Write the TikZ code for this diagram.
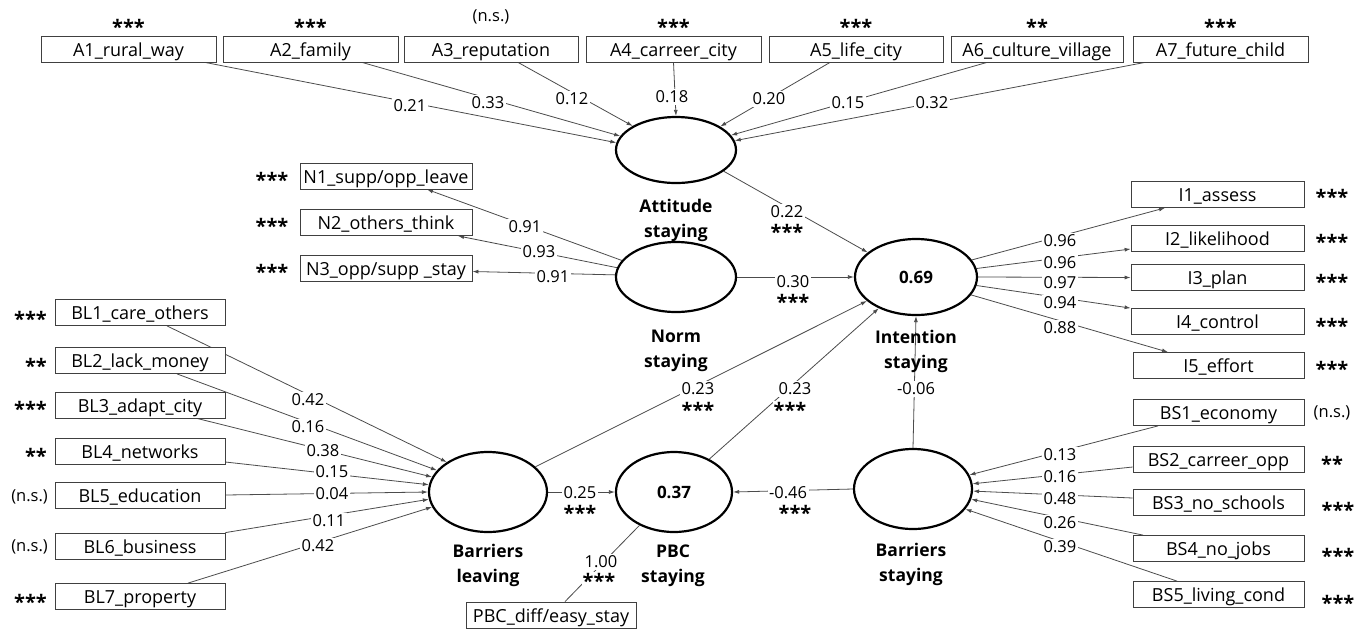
\documentclass[tikz,border=0pt]{standalone}
\usepackage{fontspec}
\setmainfont{Open Sans}
\usetikzlibrary{arrows.meta,shapes.geometric}
\pgfdeclarelayer{paper}
\pgfdeclarelayer{bg}
\pgfsetlayers{paper,bg,main}
\begin{document}
\begin{tikzpicture}[x=1pt,y=-1pt,
 box/.style={draw=black!75, line width=0.8pt, fill=white, minimum height=26pt, inner sep=0pt, text height=15pt, text depth=0.5pt, font=\fontsize{18}{20}\selectfont},
 lat/.style={ellipse, draw=black, line width=2.2pt, inner sep=0pt, fill=white, font=\bfseries\fontsize{17}{19}\selectfont},
 ltxt/.style={font=\bfseries\fontsize{17.5}{25}\selectfont, align=center},
 con/.style={draw=black!70, line width=0.8pt, -{Latex[length=6pt,width=4pt]}},
 plain/.style={draw=black!70, line width=0.8pt},
 num/.style={fill=white, inner sep=1.5pt, font=\fontsize{16.5}{18}\selectfont},
 st/.style={font=\bfseries\fontsize{20}{20}\selectfont, anchor=base, yshift=-11pt, inner sep=1pt, fill=white},
 ns/.style={font=\fontsize{16.5}{18}\selectfont, inner sep=0pt},
]
\useasboundingbox (0,0) rectangle (1370,630);
\begin{pgfonlayer}{paper}
\fill[white] (0,0) rectangle (1370,630);
\end{pgfonlayer}

% ---- top indicator boxes
\node[box, minimum width=175pt] (a1) at (128.5,49) {A1\_rural\_way};
\node[box, minimum width=175pt] (a2) at (310.5,49) {A2\_family};
\node[box, minimum width=174pt] (a3) at (491,49) {A3\_reputation};
\node[box, minimum width=175pt] (a4) at (673.5,49) {A4\_carreer\_city};
\node[box, minimum width=174pt] (a5) at (856,49) {A5\_life\_city};
\node[box, minimum width=172pt] (a6) at (1037,49) {A6\_culture\_village};
\node[box, minimum width=175pt] (a7) at (1220.5,49) {A7\_future\_child};
\node[st] (sa1) at (128.5,23) {***};
\node[st] (sa2) at (310.5,23) {***};
\node[ns] (sa3) at (491,17) {(n.s.)};
\node[st] (sa4) at (673.5,23) {***};
\node[st] (sa5) at (856,23) {***};
\node[st] (sa6) at (1037,23) {**};
\node[st] (sa7) at (1220.5,23) {***};

% ---- latent variables
\node[lat, minimum width=120pt, minimum height=66pt] (att) at (676,150) {};
\node[lat, minimum width=120pt, minimum height=70pt] (nrm) at (676,277) {};
\node[lat, minimum width=122pt, minimum height=76pt] (int) at (916,277) {0.69};
\node[lat, minimum width=118pt, minimum height=80pt] (bl) at (488,492) {};
\node[lat, minimum width=116pt, minimum height=80pt] (pbc) at (674,492) {0.37};
\node[lat, minimum width=118pt, minimum height=80pt] (bs) at (913,489) {};
\node[ltxt] (attL) at (676,220.5) {Attitude\\staying};
\node[ltxt] (nrmL) at (676,351) {Norm\\staying};
\node[ltxt] (intL) at (916,351.5) {Intention\\staying};
\node[ltxt] (blL) at (488,565.5) {Barriers\\leaving};
\node[ltxt] (pbcL) at (673,565.5) {PBC\\staying};
\node[ltxt] (bsL) at (911,564) {Barriers\\staying};

% ---- norm indicators
\node[box, minimum width=172pt] (n1) at (386,176) {N1\_supp/opp\_leave};
\node[box, minimum width=172pt] (n2) at (386,222.5) {N2\_others\_think};
\node[box, minimum width=172pt] (n3) at (386,268.5) {N3\_opp/supp \_stay};
\node[st] (sn1) at (272,176) {***};
\node[st] (sn2) at (272,222.5) {***};
\node[st] (sn3) at (272,268.5) {***};

% ---- intention indicators
\node[box, minimum width=173pt] (i1) at (1217.5,194.5) {I1\_assess};
\node[box, minimum width=173pt] (i2) at (1217.5,238.5) {I2\_likelihood};
\node[box, minimum width=173pt] (i3) at (1217.5,277.5) {I3\_plan};
\node[box, minimum width=173pt] (i4) at (1217.5,321.5) {I4\_control};
\node[box, minimum width=171pt] (i5) at (1218.5,365.5) {I5\_effort};
\node[st] (si1) at (1332,193) {***};
\node[st] (si2) at (1332,238) {***};
\node[st] (si3) at (1332,278) {***};
\node[st] (si4) at (1332,322) {***};
\node[st] (si5) at (1332,365) {***};

% ---- barriers staying indicators
\node[box, minimum width=171pt] (bs1) at (1218.5,412.5) {BS1\_economy};
\node[box, minimum width=171pt] (bs2) at (1218.5,459) {BS2\_carreer\_opp};
\node[box, minimum width=171pt] (bs3) at (1218.5,502.5) {BS3\_no\_schools};
\node[box, minimum width=171pt] (bs4) at (1218.5,548.5) {BS4\_no\_jobs};
\node[box, minimum width=171pt] (bs5) at (1218.5,594.5) {BS5\_living\_cond};
\node[ns] (sbs1) at (1332,413) {(n.s.)};
\node[st] (sbs2) at (1332,460) {**};
\node[st] (sbs3) at (1338,506) {***};
\node[st] (sbs4) at (1338,552) {***};
\node[st] (sbs5) at (1338,599) {***};

% ---- barriers leaving indicators
\node[box, minimum width=170pt] (bl1) at (140,312.5) {BL1\_care\_others};
\node[box, minimum width=170pt] (bl2) at (140,360.5) {BL2\_lack\_money};
\node[box, minimum width=170pt] (bl3) at (140,405) {BL3\_adapt\_city};
\node[box, minimum width=170pt] (bl4) at (140,451) {BL4\_networks};
\node[box, minimum width=170pt] (bl5) at (140,495) {BL5\_education};
\node[box, minimum width=170pt] (bl6) at (140,546) {BL6\_business};
\node[box, minimum width=170pt] (bl7) at (140,596.5) {BL7\_property};
\node[st, anchor=base east] (sbl1) at (48,315) {***};
\node[st, anchor=base east] (sbl2) at (48,362) {**};
\node[st, anchor=base east] (sbl3) at (48,405) {***};
\node[st, anchor=base east] (sbl4) at (48,452) {**};
\node[ns, anchor=east] (sbl5) at (48,497) {(n.s.)};
\node[ns, anchor=east] (sbl6) at (48,547) {(n.s.)};
\node[st, anchor=base east] (sbl7) at (48,598) {***};

% ---- PBC indicator
\node[box, minimum width=170pt] (pbcb) at (551,615) {PBC\_diff/easy\_stay};

% ---- connectors (background layer)
\begin{pgfonlayer}{bg}
\draw[con] ([xshift=76.5pt]a1.south) -- (att.173.2);
\draw[con] ([xshift=51.5pt]a2.south) -- (att.166.7);
\draw[con] ([xshift=27pt]a3.south) -- (att.151.9);
\draw[con] (a4.south) -- (att.north);
\draw[con] ([xshift=-26pt]a5.south) -- (att.28.1);
\draw[con] ([xshift=-50pt]a6.south) -- (att.15.7);
\draw[con] ([xshift=-75.5pt]a7.south) -- (att.9.9);

\draw[con] (nrm.163.3) -- ([xshift=41pt]n1.south);
\draw[con] (nrm.171.2) -- ([xshift=72pt]n2.south);
\draw[con] (nrm.178) -- ([yshift=-3pt]n3.east);

\draw[con] (att.336.4) -- (int.153);
\draw[con] (nrm.east) -- (int.west);
\draw[con] (bl.28) -- (int.206);
\draw[con] (pbc.43) -- (int.220);
\draw[con] (bs.north) -- (int.south);
\draw[con] (bl.east) -- (pbc.west);
\draw[con] (bs.west) -- (pbc.east);
\draw[plain] ([xshift=14pt]pbcb.north) -- (pbc.224);

\draw[con] (int.17.3) -- ([xshift=-52.5pt]i1.south);
\draw[con] (int.8.6) -- ([yshift=-10.5pt]i2.west);
\draw[con] (int.0) -- (i3.west);
\draw[con] (int.352.3) -- (i4.north west);
\draw[con] (int.342.7) -- ([xshift=-50.5pt]i5.north);

\draw[con] ([xshift=27pt]bl1.south) -- (bl.144.5);
\draw[con] ([xshift=37pt]bl2.south) -- (bl.157.3);
\draw[con] ([xshift=57pt]bl3.south) -- (bl.165.8);
\draw[con] ([yshift=-11pt]bl4.east) -- (bl.173.1);
\draw[con] (bl5.east) -- (bl.180);
\draw[con] (bl6.north east) -- (bl.187.9);
\draw[con] ([xshift=48pt]bl7.north) -- (bl.195.3);

\draw[con] ([xshift=-60.5pt]bs1.south) -- (bs.14.2);
\draw[con] ([yshift=-8pt]bs2.west) -- (bs.5.9);
\draw[con] ([yshift=4.5pt]bs3.west) -- (bs.358);
\draw[con] ([xshift=-75.5pt]bs4.north) -- (bs.350.1);
\draw[con] ([xshift=-41.5pt]bs5.north) -- (bs.339.9);
\end{pgfonlayer}

% ---- coefficient labels
\node[num] (la1) at (410,106) {0.21};
\node[num] (la2) at (488,103) {0.33};
\node[num] (la3) at (572,99) {0.12};
\node[num] (la4) at (672,97) {0.18};
\node[num] (la5) at (769,99) {0.20};
\node[num] (la6) at (848,103) {0.15};
\node[num] (la7) at (932,103) {0.32};

\node[num] (ln1) at (525,227) {0.91};
\node[num] (ln2) at (539,252) {0.93};
\node[num] (ln3) at (553,277) {0.91};

\node[num] (lai) at (787,212) {0.22};
\node[st]  (sai) at (787,228) {***};
\node[num] (lni) at (793,282) {0.30};
\node[st]  (sni) at (793,298) {***};

\node[num] (li1) at (1060,241) {0.96};
\node[num] (li2) at (1060,263) {0.96};
\node[num] (li3) at (1060,283) {0.97};
\node[num] (li4) at (1060,303) {0.94};
\node[num] (li5) at (1060,328) {0.88};

\node[num] (lb1) at (308,400) {0.42};
\node[num] (lb2) at (308,427) {0.16};
\node[num] (lb3) at (323,451) {0.38};
\node[num] (lb4) at (332,472) {0.15};
\node[num] (lb5) at (332,494) {0.04};
\node[num] (lb6) at (329,521) {0.11};
\node[num] (lb7) at (318,546) {0.42};

\node[num] (lbli) at (698,389) {0.23};
\node[st]  (sbli) at (698,406) {***};
\node[num] (lpi) at (795,389) {0.23};
\node[st]  (spi) at (790,406) {***};
\node[num] (lbsi) at (916,389) {-0.06};
\node[num] (lblp) at (580,493) {0.25};
\node[st]  (sblp) at (580,509) {***};
\node[num] (lbsp) at (788,493) {-0.46};
\node[st]  (sbsp) at (795,509) {***};
\node[num] (lpb) at (601,562) {1.00};
\node[st]  (spb) at (599,577) {***};

\node[num] (ls1) at (1060,455) {0.13};
\node[num] (ls2) at (1060,477) {0.16};
\node[num] (ls3) at (1060,499) {0.48};
\node[num] (ls4) at (1060,523) {0.26};
\node[num] (ls5) at (1060,547) {0.39};
\end{tikzpicture}
\end{document}
